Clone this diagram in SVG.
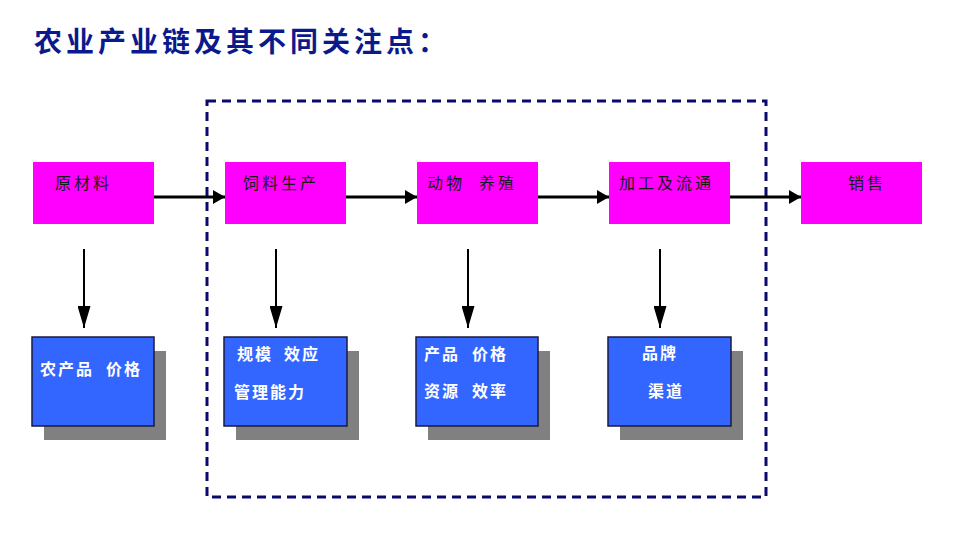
<svg xmlns="http://www.w3.org/2000/svg" width="974" height="542" viewBox="0 0 974 542">
<defs>
<style>
.title{font-family:"Noto Sans CJK SC","Noto Sans",sans-serif;font-size:28px;font-weight:bold;fill:#0A1A8C;letter-spacing:4px}
.top{fill:#FF00FF}
.tt{font-family:"Noto Sans CJK SC",sans-serif;font-size:16px;fill:#1a1a1a;letter-spacing:3px}
.blue{fill:#3366FF;stroke:#1a1a40;stroke-width:1.5}
.shadow{fill:#808080}
.bt{font-family:"Noto Sans CJK SC",sans-serif;font-size:16px;font-weight:bold;fill:#ffffff;letter-spacing:2px}
.ln{stroke:#000;stroke-width:3;fill:none}
.vl{stroke:#000;stroke-width:2;fill:none}
.dash{fill:none;stroke:#0A0A6E;stroke-width:3;stroke-dasharray:9 6}
</style>
<marker id="ah" viewBox="0 0 12 14" refX="12" refY="7" markerWidth="12" markerHeight="14" markerUnits="userSpaceOnUse" orient="auto">
<path d="M0,0 L12,7 L0,14 Z" fill="#000"/>
</marker>
<marker id="av" viewBox="0 0 22 13" refX="22" refY="6.5" markerWidth="22" markerHeight="13" markerUnits="userSpaceOnUse" orient="auto">
<path d="M0,0 L22,6.5 L0,13 Z" fill="#000"/>
</marker>
</defs>
<rect width="974" height="542" fill="#ffffff"/>
<text class="title" x="34" y="52">农业产业链及其不同关注点：</text>

<g id="frame"><rect class="dash" x="207" y="101" width="559" height="396"/></g>

<g id="connectors">
<line class="ln" x1="154" y1="197" x2="225" y2="197" marker-end="url(#ah)"/>
<line class="ln" x1="346" y1="197" x2="417" y2="197" marker-end="url(#ah)"/>
<line class="ln" x1="538" y1="197" x2="609" y2="197" marker-end="url(#ah)"/>
<line class="ln" x1="730" y1="197" x2="801" y2="197" marker-end="url(#ah)"/>
<line class="vl" x1="84" y1="249" x2="84" y2="328" marker-end="url(#av)"/>
<line class="vl" x1="276" y1="249" x2="276" y2="328" marker-end="url(#av)"/>
<line class="vl" x1="468" y1="249" x2="468" y2="328" marker-end="url(#av)"/>
<line class="vl" x1="660" y1="249" x2="660" y2="328" marker-end="url(#av)"/>
</g>

<g id="n-raw"><rect class="top" x="33" y="162" width="121" height="62"/><text class="tt" x="55" y="189">原材料</text></g>
<g id="n-feed"><rect class="top" x="225" y="162" width="121" height="62"/><text class="tt" x="243" y="189">饲料生产</text></g>
<g id="n-animal"><rect class="top" x="417" y="162" width="121" height="62"/><text class="tt" y="189"><tspan x="427">动物</tspan><tspan x="479">养殖</tspan></text></g>
<g id="n-process"><rect class="top" x="609" y="162" width="121" height="62"/><text class="tt" x="619" y="189">加工及流通</text></g>
<g id="n-sales"><rect class="top" x="801" y="162" width="121" height="62"/><text class="tt" x="848" y="189">销售</text></g>

<g id="b-raw"><rect class="shadow" x="44" y="351" width="122" height="89"/><rect class="blue" x="32" y="337" width="122" height="89"/><text class="bt" y="375"><tspan x="40">农产品</tspan><tspan x="106">价格</tspan></text></g>
<g id="b-feed"><rect class="shadow" x="236" y="351" width="123" height="89"/><rect class="blue" x="224" y="337" width="123" height="89"/><text class="bt" y="360"><tspan x="237">规模</tspan><tspan x="284">效应</tspan></text><text class="bt" x="234" y="398">管理能力</text></g>
<g id="b-animal"><rect class="shadow" x="428" y="351" width="122" height="89"/><rect class="blue" x="416" y="337" width="122" height="89"/><text class="bt" y="360"><tspan x="424">产品</tspan><tspan x="472">价格</tspan></text><text class="bt" y="397"><tspan x="424">资源</tspan><tspan x="472">效率</tspan></text></g>
<g id="b-process"><rect class="shadow" x="620" y="351" width="123" height="89"/><rect class="blue" x="608" y="337" width="123" height="89"/><text class="bt" x="642" y="359">品牌</text><text class="bt" x="648" y="397">渠道</text></g>
</svg>
